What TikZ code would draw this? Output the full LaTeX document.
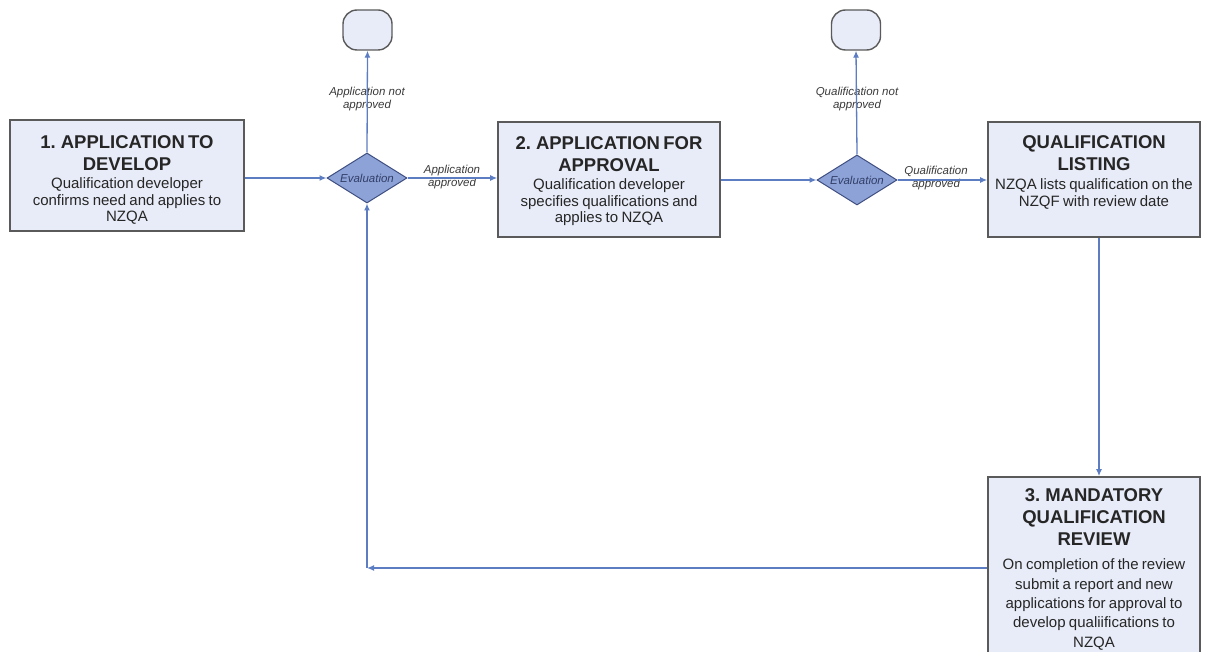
\documentclass[tikz,border=0pt]{standalone}
\usepackage{fontspec}
\setmainfont{Liberation Sans}
\usetikzlibrary{shapes.geometric,arrows.meta}
\definecolor{boxfill}{HTML}{E8ECF8}
\definecolor{boxline}{HTML}{5A5A5A}
\definecolor{diafill}{HTML}{8DA3D8}
\definecolor{dialine}{HTML}{3E4E80}
\definecolor{connc}{HTML}{5C7DC2}
\definecolor{txtc}{HTML}{262626}
\definecolor{lblc}{HTML}{3A3A3A}
\newcommand{\ttlf}{\fontsize{18.5}{22}\selectfont\bfseries}
\newcommand{\bdyf}{\fontsize{15}{16.5}\selectfont\mdseries}
\newcommand{\bdyw}{\fontsize{15}{19.3}\selectfont\mdseries}
\begin{document}
\begin{tikzpicture}[x=1pt,y=-1pt,
  procbox/.style={draw=boxline, fill=boxfill, line width=1.6pt, rectangle, inner sep=0pt},
  termbox/.style={draw=boxline, fill=boxfill, line width=1.4pt, rectangle, rounded corners=14pt, minimum width=49pt, minimum height=40pt, inner sep=0pt},
  dia/.style={draw=dialine, fill=diafill, line width=1pt, diamond, minimum width=80pt, minimum height=50pt, inner sep=0pt},
  boxtxt/.style={text=txtc, align=center, text width=#1, inner sep=0pt},
  evtxt/.style={font=\fontsize{11.5}{12}\selectfont\itshape, text=dialine!80!black, inner sep=0pt},
  lbl/.style={font=\fontsize{11.5}{13}\selectfont\itshape, text=lblc, align=center, inner sep=0pt},
  conn/.style={draw=connc, line width=1.3pt, -{Latex[length=7pt,width=6pt]}},
]
\useasboundingbox (0,0) rectangle (1209,652);
\clip (0,0) rectangle (1209,652);

% boxes
\node[procbox, minimum width=234pt, minimum height=111pt] (b1) at (127,175.5) {};
\node[procbox, minimum width=222pt, minimum height=115pt] (b2) at (609,179.5) {};
\node[procbox, minimum width=212pt, minimum height=115pt] (b4) at (1094,179.5) {};
\node[procbox, minimum width=212pt, minimum height=190pt] (b5) at (1094,572) {};

% terminals
\node[termbox] (t1) at (367.5,30) {};
\node[termbox] (t2) at (856,30) {};

% diamonds
\node[dia] (d1) at (367,178) {};
\node[evtxt] (d1t) at (d1.center) {Evaluation};
\node[dia] (d2) at (857,180) {};
\node[evtxt] (d2t) at (d2.center) {Evaluation};

% box texts
\node[boxtxt=232pt, anchor=north] (b1t) at (127,135) {\ttlf 1. APPLICATION TO\\DEVELOP\par\vspace{2pt}\bdyf Qualification developer\\confirms need and applies to\\NZQA\par};
\node[boxtxt=220pt, anchor=north] (b2t) at (609,136) {\ttlf 2. APPLICATION FOR\\APPROVAL\par\vspace{2pt}\bdyf Qualification developer\\specifies qualifications and\\applies to NZQA\par};
\node[boxtxt=210pt, anchor=north] (b4t) at (1094,135) {\ttlf QUALIFICATION\\LISTING\par\vspace{3pt}\bdyf NZQA lists qualification on the\\NZQF with review date\par};
\node[boxtxt=210pt, anchor=north] (b5t) at (1094,488.5) {\ttlf 3. MANDATORY\\QUALIFICATION\\REVIEW\par\vspace{5pt}\bdyw On completion of the review\\submit a report and new\\applications for approval to\\develop qualiifications to\\NZQA\par};

% labels
\node[lbl] (l1) at (367,99) {Application not\\approved};
\node[lbl] (l2) at (452,177) {Application\\approved};
\node[lbl] (l3) at (857,99) {Qualification not\\approved};
\node[lbl] (l4) at (936,178) {Qualification\\approved};

% connectors
\draw[conn] (b1.east |- d1.west) -- (d1.west);
\draw[conn] (d1.east) -- (d1.east -| b2.west);
\draw[conn] (b2.east |- d2.west) -- (d2.west);
\draw[conn] (d2.east) -- (d2.east -| b4.west);
\draw[conn] (d1.north) -- (t1.south);
\draw[conn] (d2.north) -- (t2.south);
\draw[conn] ([xshift=5pt]b4.south) -- ([xshift=5pt]b5.north);
\coordinate (c1) at (d1.south |- 0,568);
\draw[conn] (b5.west |- c1) -- (c1);
\draw[conn] (c1) -- (d1.south);
\end{tikzpicture}
\end{document}
